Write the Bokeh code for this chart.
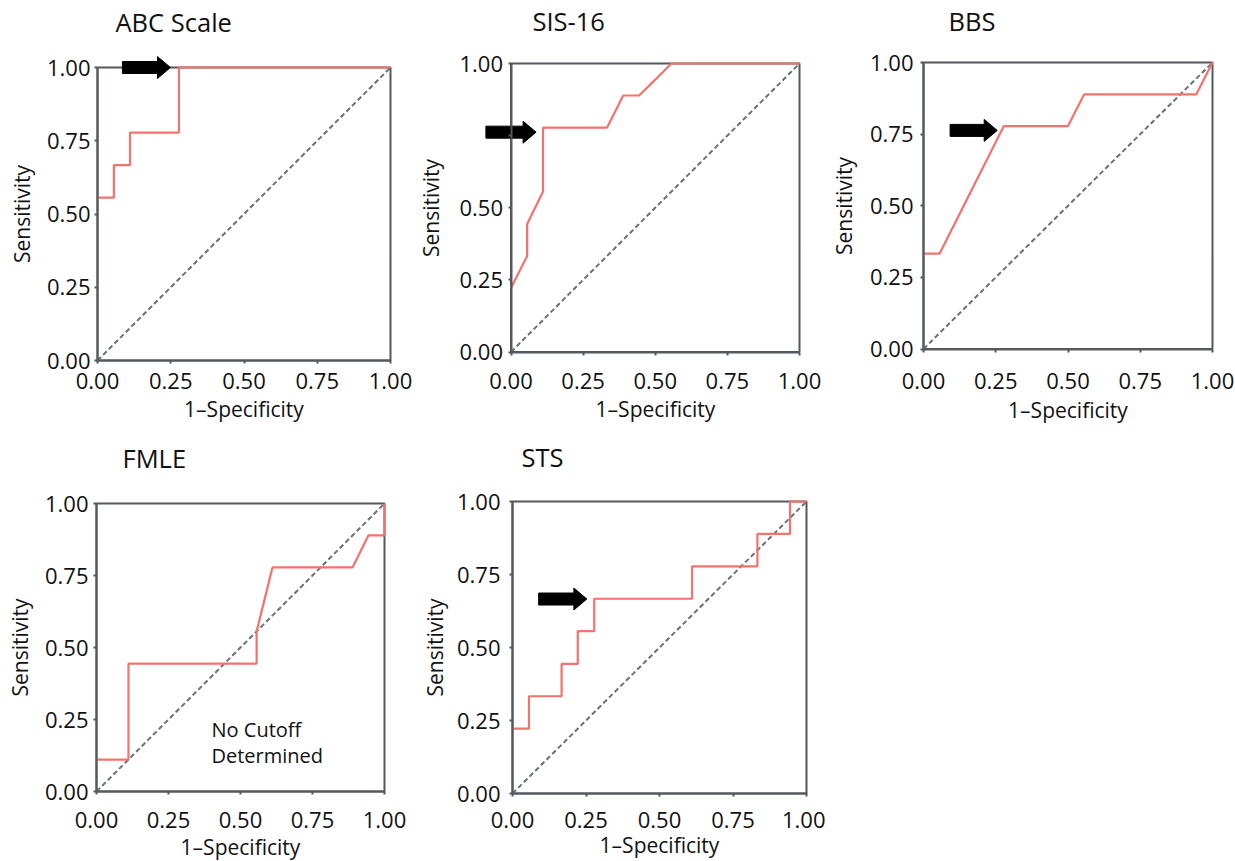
from bokeh.plotting import figure
from bokeh.layouts import column, row
from bokeh.models import FixedTicker, Label, Range1d, BoxAnnotation
from bokeh.embed import file_html
from bokeh.resources import INLINE

# ---------------- data ----------------
titles = ["ABC Scale", "SIS-16", "BBS", "FMLE", "STS"]
tick_values = [0.0, 0.25, 0.5, 0.75, 1.0]
tick_labels = ["0.00", "0.25", "0.50", "0.75", "1.00"]

abc_fpr = [0.0, 0.056, 0.056, 0.111, 0.111, 0.278, 0.278, 1.0]
abc_tpr = [0.556, 0.556, 0.667, 0.667, 0.778, 0.778, 1.0, 1.0]

sis_fpr = [0.0, 0.056, 0.056, 0.111, 0.111, 0.333, 0.389, 0.444, 0.5, 0.556, 1.0]
sis_tpr = [0.222, 0.333, 0.444, 0.556, 0.778, 0.778, 0.889, 0.889, 0.944, 1.0, 1.0]

bbs_fpr = [0.0, 0.056, 0.278, 0.5, 0.556, 0.944, 1.0]
bbs_tpr = [0.333, 0.333, 0.778, 0.778, 0.889, 0.889, 1.0]

fmle_fpr = [0.0, 0.111, 0.111, 0.556, 0.556, 0.611, 0.889, 0.944, 1.0, 1.0]
fmle_tpr = [0.111, 0.111, 0.444, 0.444, 0.556, 0.778, 0.778, 0.889, 0.889, 1.0]

sts_fpr = [0.0, 0.056, 0.056, 0.167, 0.167, 0.222, 0.222, 0.278, 0.278, 0.611, 0.611,
           0.833, 0.833, 0.944, 0.944, 1.0]
sts_tpr = [0.222, 0.222, 0.333, 0.333, 0.444, 0.444, 0.556, 0.556, 0.667, 0.667, 0.778,
           0.778, 0.889, 0.889, 1.0, 1.0]

ref_x = [0.0, 1.0]
ref_y = [0.0, 1.0]

# cutoff arrows (None = no cutoff determined)
arrow_x0 = [0.085, -0.087, 0.092, None, 0.089]
arrow_x1 = [0.249, 0.087, 0.255, None, 0.253]
arrow_y = [1.0, 0.762, 0.763, None, 0.666]

hidden_y_labels = [[], [0.75], [], [], []]
note_lines = [[], [], [], ["No Cutoff", "Determined"], []]

curves = [(abc_fpr, abc_tpr), (sis_fpr, sis_tpr), (bbs_fpr, bbs_tpr),
          (fmle_fpr, fmle_tpr), (sts_fpr, sts_tpr)]

# ---------------- layout (page pixel positions, styles) ----------------
FONT = "Open Sans"
RED = "#f2736b"
AX = "#53595d"
TXT = "#111111"

panel_layout = [
    # figure box (x, y, w, h), data box (x0, y0, x1, y1), title pos, label offsets
    dict(fig=(0, 0, 413, 430), box=(97, 67, 390, 360), title=(115, 32),
         ytg=7, yb=67, xtc=20, xb=57),
    dict(fig=(413, 0, 412, 430), box=(510.5, 63, 799, 351.5), title=(532, 31),
         ytg=8, yb=72, xtc=29, xb=65),
    dict(fig=(825, 0, 409, 430), box=(923, 62, 1212, 348.5), title=(948, 31),
         ytg=10, yb=71, xtc=32, xb=69),
    dict(fig=(0, 430, 413, 430), box=(96, 503, 384, 791), title=(122, 468),
         ytg=8, yb=68, xtc=27.5, xb=63),
    dict(fig=(413, 430, 412, 430), box=(512, 501, 806, 793), title=(521, 467),
         ytg=12, yb=69, xtc=25.5, xb=57),
]
note_pos = [(211, 737), (211, 763)]

TICK_FS, LAB_FS, TITLE_FS, NOTE_FS = 22, 21, 25.5, 20
ARROW_SHAFT, ARROW_HEAD_W, ARROW_HEAD_L = 6, 11, 13


def make_panel(i):
    L = panel_layout[i]
    fx, fy, fw, fh = L["fig"]
    bx0, by0, bx1, by1 = L["box"]

    def dx(px):
        return (px - bx0) / (bx1 - bx0)

    def dy(py):
        return (by1 - py) / (by1 - by0)

    ux = 1.0 / (bx1 - bx0)
    uy = 1.0 / (by1 - by0)

    p = figure(width=fw, height=fh, output_backend="svg", toolbar_location=None,
               x_range=Range1d(dx(fx), dx(fx + fw)), y_range=Range1d(dy(fy + fh), dy(fy)),
               min_border=0, min_border_left=0, min_border_right=0,
               min_border_top=0, min_border_bottom=0)
    p.xgrid.visible = False
    p.ygrid.visible = False
    p.outline_line_color = None
    p.background_fill_color = "white"
    p.border_fill_color = "white"

    for ax, lab in ((p.xaxis[0], "1\u2013Specificity"), (p.yaxis[0], "Sensitivity")):
        ax.fixed_location = 0
        ax.bounds = (0, 1)
        ax.ticker = FixedTicker(ticks=tick_values)
        ax.major_label_overrides = {v: s for v, s in zip(tick_values, tick_labels)}
        ax.minor_tick_line_color = None
        ax.major_tick_in = 0
        ax.major_tick_out = 3
        ax.major_tick_line_color = AX
        ax.major_tick_line_width = 2
        ax.axis_line_color = AX
        ax.axis_line_width = 2
        ax.major_label_text_font = FONT
        ax.major_label_text_font_size = f"{TICK_FS}px"
        ax.major_label_text_color = TXT
        ax.axis_label = lab
        ax.axis_label_text_font = FONT
        ax.axis_label_text_font_size = f"{LAB_FS}px"
        ax.axis_label_text_font_style = "normal"
        ax.axis_label_text_color = TXT

    xs1 = L["xtc"] - 3 - 0.357 * TICK_FS
    p.xaxis[0].major_label_standoff = int(round(xs1))
    p.xaxis[0].axis_label_standoff = int(round(max(0, L["xb"] - 0.714 * LAB_FS - 3 - xs1 - 1.2 * TICK_FS)))
    p.yaxis[0].major_label_standoff = int(round(L["ytg"] - 3))
    p.yaxis[0].axis_label_standoff = int(round(max(0, L["yb"] - L["ytg"] - 1.85 * TICK_FS - 11)))

    if hidden_y_labels[i]:
        ov = dict(p.yaxis[0].major_label_overrides)
        for v in hidden_y_labels[i]:
            ov[v] = ""
        p.yaxis[0].major_label_overrides = ov

    # plot box (top and right edges; bottom/left are the axes)
    p.add_layout(BoxAnnotation(left=0, right=1, bottom=0, top=1, fill_alpha=0,
                               line_color=AX, line_alpha=1.0, line_width=2,
                               level="underlay"))

    p.line(ref_x, ref_y, line_color="#6a7176", line_width=2, line_dash="5 3")
    cx, cy = curves[i]
    p.line(cx, cy, line_color=RED, line_width=2.2)

    if arrow_y[i] is not None:
        x0, x1, y = arrow_x0[i], arrow_x1[i], arrow_y[i]
        hb = x1 - ARROW_HEAD_L * ux
        axs = [x0, hb, hb, x1, hb, hb, x0]
        ays = [y + ARROW_SHAFT * uy, y + ARROW_SHAFT * uy, y + ARROW_HEAD_W * uy, y,
               y - ARROW_HEAD_W * uy, y - ARROW_SHAFT * uy, y - ARROW_SHAFT * uy]
        p.patch(axs, ays, fill_color="black", line_color="black", line_width=1)

    # title (baseline positions corrected for Bokeh's label placement)
    tx, ty = L["title"]
    p.add_layout(Label(x=dx(tx), y=dy(ty - 0.42 * TITLE_FS), text=titles[i], text_font=FONT,
                       text_font_size=f"{TITLE_FS}px", text_color=TXT,
                       text_align="left", text_baseline="alphabetic"))

    for (nx, ny), line in zip(note_pos, note_lines[i]):
        p.add_layout(Label(x=dx(nx), y=dy(ny - 0.42 * NOTE_FS), text=line, text_font=FONT,
                           text_font_size=f"{NOTE_FS}px", text_color=TXT,
                           text_align="left", text_baseline="alphabetic"))
    return p


panels = [make_panel(i) for i in range(5)]
layout = column(row(panels[0], panels[1], panels[2]), row(panels[3], panels[4]))

open("out.html", "w").write(file_html(layout, INLINE))
